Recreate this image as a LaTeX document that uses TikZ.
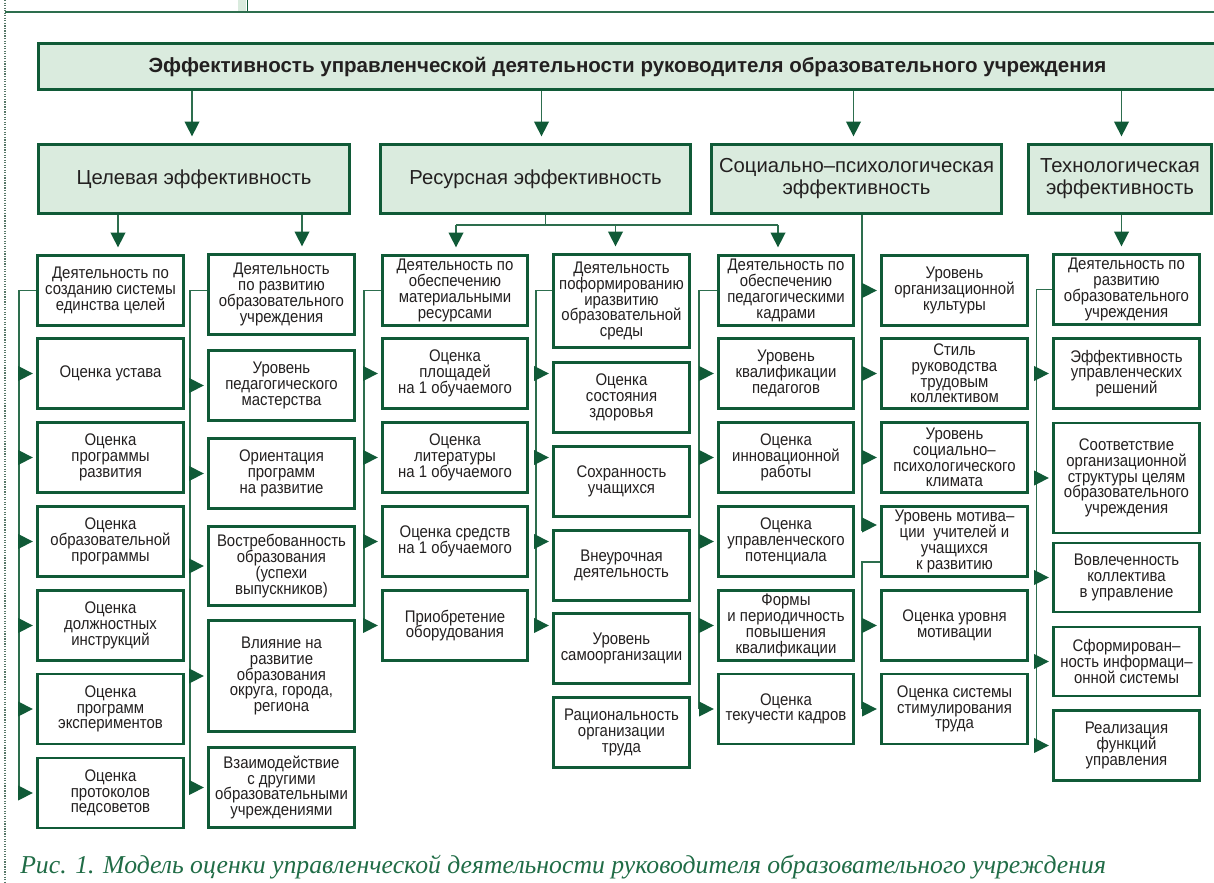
\documentclass[tikz,border=0pt]{standalone}
\usepackage{fontspec}
\setmainfont{Liberation Sans}
\newfontfamily\boxfont[FakeStretch=0.89]{Liberation Sans}
\newfontfamily\capfont{Liberation Serif}
\usetikzlibrary{arrows.meta}

\definecolor{boxgreen}{RGB}{16,90,55}
\definecolor{lngreen}{RGB}{45,110,78}
\definecolor{lightgreen}{RGB}{218,235,222}
\definecolor{txt}{RGB}{35,32,32}
\definecolor{capgreen}{RGB}{32,108,70}

\tikzset{
  hdbox/.style={draw=boxgreen, line width=2.2pt, fill=lightgreen, inner sep=0pt, align=center, text=txt},
  box/.style={draw=boxgreen, line width=2.2pt, fill=white, inner sep=0pt, align=center, text=txt,
    font={\boxfont\fontsize{12.6}{11.8}\selectfont\lineskiplimit-10pt}},
  sz/.style 2 args={minimum width=#1*0.75pt, minimum height=#2*0.75pt},
  ln/.style={draw=lngreen, line width=1.1pt},
  arr/.style={ln, -{Triangle[length=11pt, width=11pt, color=boxgreen]}},
  down/.style={arr, shorten >=5pt},
  side/.style={arr, shorten >=2.4pt},
}

\begin{document}
\begin{tikzpicture}[x=0.75pt,y=-0.75pt]
    \useasboundingbox (0,0) rectangle (1214,882);
    % page frame
    \fill[lightgreen] (238,0) rectangle (246,12);
    \draw[boxgreen, line width=0.9pt] (247.5,0) -- (247.5,12);
    \draw[lngreen, line width=1pt] (5,12) -- (1214,12);
    \draw[lngreen!50!gray, line width=0.9pt, densely dotted] (5,0) -- (5,882);

    % top levels
    \node[hdbox, sz={1178}{46}, font=\bfseries\fontsize{15.4}{17}\selectfont] (main) at (627.5,66.5)
      {Эффективность управленческой деятельности руководителя образовательного учреждения};
    \node[hdbox, sz={311}{69}, font=\fontsize{15.2}{16.5}\selectfont] (cel) at (194,179) {Целевая эффективность};
    \node[hdbox, sz={310}{69}, font=\fontsize{15.2}{16.5}\selectfont] (res) at (535.5,179) {Ресурсная эффективность};
    \node[hdbox, sz={290}{69}, font=\fontsize{15.2}{16.5}\selectfont] (soc) at (856.5,179) {Социально–психологическая\\эффективность};
    \node[hdbox, sz={183}{69}, font=\fontsize{15.2}{16.5}\selectfont] (tech) at (1120,179) {Технологическая\\эффективность};

    % целевая
    \node[box, sz={146}{70}] (a1) at (110.5,290.5) {Деятельность по\\созданию системы\\единства целей};
    \node[box, sz={146}{70}] (a2) at (110.5,373.5) {Оценка устава};
    \node[box, sz={146}{70}] (a3) at (110.5,457.5) {Оценка\\программы\\развития};
    \node[box, sz={146}{70}] (a4) at (110.5,541.5) {Оценка\\образовательной\\программы};
    \node[box, sz={146}{70}] (a5) at (110.5,625.5) {Оценка\\должностных\\инструкций};
    \node[box, sz={146}{70}] (a6) at (110.5,709) {Оценка\\программ\\экспериментов};
    \node[box, sz={146}{70}] (a7) at (110.5,793) {Оценка\\протоколов\\педсоветов};

    \node[box, sz={146}{80}] (b1) at (281.5,294.5) {Деятельность\\по развитию\\образовательного\\учреждения};
    \node[box, sz={146}{70}] (b2) at (281.5,385.5) {Уровень\\педагогического\\мастерства};
    \node[box, sz={146}{70}] (b3) at (281.5,473.5) {Ориентация\\программ\\на развитие};
    \node[box, sz={146}{79}] (b4) at (281.5,566) {Востребованность\\образования\\(успехи\\выпускников)};
    \node[box, sz={146}{111}] (b5) at (281.5,676) {Влияние на\\развитие\\образования\\округа, города,\\региона};
    \node[box, sz={146}{80}] (b6) at (281.5,787.5) {Взаимодействие\\с другими\\образовательными\\учреждениями};

    % ресурсная
    \node[box, sz={145}{70}] (c1) at (455,290.5) {Деятельность по\\обеспечению\\материальными\\ресурсами};
    \node[box, sz={145}{70}] (c2) at (455,373.5) {Оценка\\площадей\\на 1 обучаемого};
    \node[box, sz={145}{70}] (c3) at (455,457.5) {Оценка\\литературы\\на 1 обучаемого};
    \node[box, sz={145}{70}] (c4) at (455,541.5) {Оценка средств\\на 1 обучаемого};
    \node[box, sz={145}{70}] (c5) at (455,625.5) {Приобретение\\оборудования};

    \node[box, sz={136}{93}] (d1) at (621.5,301) {Деятельность\\поформированию\\иразвитию\\образовательной\\среды};
    \node[box, sz={136}{70}] (d2) at (621.5,397.5) {Оценка\\состояния\\здоровья};
    \node[box, sz={136}{70}] (d3) at (621.5,481.5) {Сохранность\\учащихся};
    \node[box, sz={136}{70}] (d4) at (621.5,565.5) {Внеурочная\\деятельность};
    \node[box, sz={136}{70}] (d5) at (621.5,648.5) {Уровень\\самоорганизации};
    \node[box, sz={136}{70}] (d6) at (621.5,732.5) {Рациональность\\организации\\труда};

    \node[box, sz={135}{70}] (e1) at (786,290.5) {Деятельность по\\обеспечению\\педагогическими\\кадрами};
    \node[box, sz={135}{70}] (e2) at (786,373.5) {Уровень\\квалификации\\педагогов};
    \node[box, sz={135}{70}] (e3) at (786,457.5) {Оценка\\инновационной\\работы};
    \node[box, sz={135}{70}] (e4) at (786,541.5) {Оценка\\управленческого\\потенциала};
    \node[box, sz={135}{70}] (e5) at (786,625.5) {Формы\\и периодичность\\повышения\\квалификации};
    \node[box, sz={135}{70}] (e6) at (786,709) {Оценка\\текучести кадров};

    % социально-психологическая
    \node[box, sz={146}{70}] (f1) at (954.5,290.5) {Уровень\\организационной\\культуры};
    \node[box, sz={146}{70}] (f2) at (954.5,373.5) {Стиль\\руководства\\трудовым\\коллективом};
    \node[box, sz={146}{70}] (f3) at (954.5,457.5) {Уровень\\социально–\\психологического\\климата};
    \node[box, sz={146}{70}] (f4) at (954.5,541.5) {Уровень мотива–\\ции\ \ учителей и\\учащихся\\к развитию};
    \node[box, sz={146}{70}] (f5) at (954.5,625.5) {Оценка уровня\\мотивации};
    \node[box, sz={146}{70}] (f6) at (954.5,709) {Оценка системы\\стимулирования\\труда};

    % технологическая
    \node[box, sz={146}{70}] (g1) at (1126.5,289.5) {Деятельность по\\развитию\\образовательного\\учреждения};
    \node[box, sz={146}{70}] (g2) at (1126.5,373.5) {Эффективность\\управленческих\\решений};
    \node[box, sz={146}{110}] (g3) at (1126.5,478) {Соответствие\\организационной\\структуры целям\\образовательного\\учреждения};
    \node[box, sz={146}{69}] (g4) at (1126.5,577.5) {Вовлеченность\\коллектива\\в управление};
    \node[box, sz={146}{69}] (g5) at (1126.5,661.5) {Сформирован–\\ность информаци–\\онной системы};
    \node[box, sz={146}{70}] (g6) at (1126.5,745.5) {Реализация\\функций\\управления};

    % connector points
    \coordinate (t1) at (192,0);
    \coordinate (t2) at (541.5,0);
    \coordinate (t3) at (853.5,0);
    \coordinate (t4) at (1121.5,0);
    \coordinate (ca) at (118,0);
    \coordinate (cb) at (302,0);
    \coordinate (rj) at (545.5,225);
    \coordinate (rc) at (456,225);
    \coordinate (rd) at (615.5,225);
    \coordinate (re) at (778,225);
    \coordinate (la) at (19,0);
    \coordinate (lb) at (190,0);
    \coordinate (lc) at (364,0);
    \coordinate (ld) at (536,0);
    \coordinate (le) at (699,0);
    \coordinate (sl) at (862,0);
    \coordinate (s1) at (862,531);
    \coordinate (sm) at (862,525);
    \coordinate (s2) at (862,562);
    \coordinate (lg) at (1036.5,0);

    % main -> level 2
    \draw[down] (t1 |- main.south) -- (t1 |- cel.north);
    \draw[down] (t2 |- main.south) -- (t2 |- res.north);
    \draw[down] (t3 |- main.south) -- (t3 |- soc.north);
    \draw[down] (t4 |- main.south) -- (t4 |- tech.north);

    % level 2 -> level 3
    \draw[down] (ca |- cel.south) -- (ca |- a1.north);
    \draw[down] (cb |- cel.south) -- (cb |- b1.north);
    \draw[ln] (rj |- res.south) -- (rj);
    \draw[ln] (rc) -- (re);
    \draw[down] (rc) -- (rc |- c1.north);
    \draw[down] (rd) -- (rd |- d1.north);
    \draw[down] (re) -- (re |- e1.north);
    \draw[ln] (sl |- soc.south) -- (s1);
    \draw[down] (t4 |- tech.south) -- (t4 |- g1.north);

    % column A
    \draw[ln] (a1.west) -| (la |- a7.west);
    \draw[side] (la |- a2.west) -- (a2.west);
    \draw[side] (la |- a3.west) -- (a3.west);
    \draw[side] (la |- a4.west) -- (a4.west);
    \draw[side] (la |- a5.west) -- (a5.west);
    \draw[side] (la |- a6.west) -- (a6.west);
    \draw[side] (la |- a7.west) -- (a7.west);

    % column B
    \draw[ln] (a1.west -| b1.west) -| (lb |- b6.west);
    \draw[side] (lb |- b2.west) -- (b2.west);
    \draw[side] (lb |- b3.west) -- (b3.west);
    \draw[side] (lb |- b4.west) -- (b4.west);
    \draw[side] (lb |- b5.west) -- (b5.west);
    \draw[side] (lb |- b6.west) -- (b6.west);

    % column C
    \draw[ln] (c1.west) -| (lc |- c5.west);
    \draw[side] (lc |- c2.west) -- (c2.west);
    \draw[side] (lc |- c3.west) -- (c3.west);
    \draw[side] (lc |- c4.west) -- (c4.west);
    \draw[side] (lc |- c5.west) -- (c5.west);

    % column D
    \draw[ln] (c1.west -| d1.west) -| (ld |- c5.west);
    \draw[side] (ld |- c2.west) -- (c2.west -| d2.west);
    \draw[side] (ld |- c3.west) -- (c3.west -| d3.west);
    \draw[side] (ld |- c4.west) -- (c4.west -| d4.west);
    \draw[side] (ld |- c5.west) -- (c5.west -| d5.west);

    % column E
    \draw[ln] (e1.west) -| (le |- e6.west);
    \draw[side] (le |- e2.west) -- (e2.west);
    \draw[side] (le |- e3.west) -- (e3.west);
    \draw[side] (le |- e4.west) -- (e4.west);
    \draw[side] (le |- e5.west) -- (e5.west);
    \draw[side] (le |- e6.west) -- (e6.west);

    % column F
    \draw[side] (sl |- f1.west) -- (f1.west);
    \draw[side] (sl |- f2.west) -- (f2.west);
    \draw[side] (sl |- f3.west) -- (f3.west);
    \draw[side] (sm) -- (sm -| f4.west);
    \draw[ln] (s2 -| f4.west) -- (s2) -- (sl |- f6.west);
    \draw[side] (sl |- f5.west) -- (f5.west);
    \draw[side] (sl |- f6.west) -- (f6.west);

    % column G
    \draw[ln] (g1.west) -| (lg |- g6.west);
    \draw[side] (lg |- g2.west) -- (g2.west);
    \draw[side] (lg |- g3.west) -- (g3.west);
    \draw[side] (lg |- g4.west) -- (g4.west);
    \draw[side] (lg |- g5.west) -- (g5.west);
    \draw[side] (lg |- g6.west) -- (g6.west);

    % caption
    \node[anchor=base west, inner sep=0pt, text=capgreen, font=\capfont\itshape\fontsize{19.3}{21}\selectfont] (cap) at (20,873)
      {Рис. 1. Модель оценки управленческой деятельности руководителя образовательного учреждения};
\end{tikzpicture}
\end{document}
